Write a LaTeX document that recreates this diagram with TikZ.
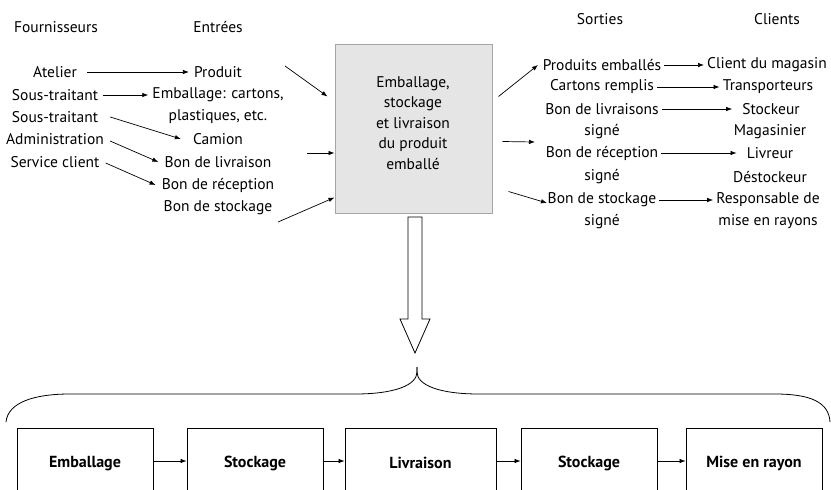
\documentclass[tikz,border=0pt]{standalone}
\usepackage{fontspec}
\setmainfont{PT Sans}
\usetikzlibrary{arrows.meta,calc}
\begin{document}
\begin{tikzpicture}[x=1pt,y=-1pt,
  lbl/.style={font=\fontsize{15.5}{20.5}\selectfont, inner sep=0pt, align=center},
  arr/.style={-{Latex[length=6pt,width=4.5pt]}, line width=0.7pt},
  mainbox/.style={draw=black!35, fill=black!10, line width=1pt, minimum width=157pt, minimum height=169pt, inner sep=0pt},
  stepbox/.style={draw, line width=0.8pt, minimum width=136pt, minimum height=70pt, inner sep=0pt, font=\bfseries\fontsize{16}{18}\selectfont, anchor=north},
]
\useasboundingbox (0,0) rectangle (831,490);
\clip (0,0) rectangle (831,490);

% headers
\node[lbl] (hF) at (56,27) {Fournisseurs};
\node[lbl] (hE) at (218,27) {Entrées};
\node[lbl] (hS) at (600,19) {Sorties};
\node[lbl] (hC) at (777,19) {Clients};

% suppliers
\node[lbl] (f1) at (55,72) {Atelier};
\node[lbl] (f2) at (55,95) {Sous-traitant};
\node[lbl] (f3) at (55,117) {Sous-traitant};
\node[lbl] (f4) at (55,139) {Administration};
\node[lbl] (f5) at (55,162) {Service client};

% inputs
\node[lbl] (e1) at (218,72) {Produit};
\node[lbl] (e2) at (218,95) {Emballage: cartons,};
\node[lbl] (e2b) at (218,117) {plastiques, etc.};
\node[lbl] (e3) at (218,139) {Camion};
\node[lbl] (e4) at (218,162) {Bon de livraison};
\node[lbl] (e5) at (218,185) {Bon de réception};
\node[lbl] (e6) at (218,208) {Bon de stockage};

\draw[arr] ($(f1.east)+(10,0)$) -- ($(e1.west)+(-5,0)$);
\draw[arr] ($(f2.east)+(5,0)$) -- ($(e2.west)+(-4,0)$);
\draw[arr] ($(f3.east)+(12,0)$) -- ($(e3.west)+(-12,0)$);
\draw[arr] ($(f4.east)+(6,2)$) -- ($(e4.west)+(-6,0)$);
\draw[arr] ($(f5.east)+(6,1)$) -- ($(e5.west)+(-6,0)$);

% main box
\node[mainbox] (box) at (413.5,128.5) {};
\node[lbl] (boxtxt) at (413,123) {Emballage,\\stockage\\et livraison\\du produit\\emballé};

% arrows into box
\coordinate (i1) at (285,66);
\coordinate (i2) at (307,153);
\coordinate (i3) at (278,222);
\draw[arr] (i1) -- ($(box.north west)+(-7,53)$);
\draw[arr] (i2) -- (i2 -| box.west);
\draw[arr] (i3) -- ($(box.north west)+(0,154)$);

% arrows out of box
\coordinate (o1) at (538,65);
\coordinate (o2) at (535,142);
\coordinate (o3) at (547,203);
\draw[arr] ($(box.north east)+(6,53)$) -- (o1);
\draw[arr] ($(box.north east)+(10,98)$) -- (o2);
\draw[arr] ($(box.north east)+(16,148)$) -- (o3);

% outputs
\node[lbl] (s1) at (602,65) {Produits emballés};
\node[lbl] (s2) at (602,87) {Cartons remplis};
\node[lbl] (s3) at (602,109) {Bon de livraisons};
\node[lbl] (s3b) at (602,132) {signé};
\node[lbl] (s4) at (602,153) {Bon de réception};
\node[lbl] (s4b) at (602,177) {signé};
\node[lbl] (s5) at (602,200) {Bon de stockage};
\node[lbl] (s5b) at (602,222) {signé};

% clients
\node[lbl] (c1) at (767,65) {Client du magasin};
\node[lbl] (c2) at (768,87) {Transporteurs};
\node[lbl] (c3) at (771,109) {Stockeur};
\node[lbl] (c3b) at (770,132) {Magasinier};
\node[lbl] (c4) at (770,153) {Livreur};
\node[lbl] (c4b) at (770,177) {Déstockeur};
\node[lbl] (c5) at (768,200) {Responsable de};
\node[lbl] (c5b) at (768,222) {mise en rayons};

\draw[arr] ($(s1.east)+(3,0)$) -- ($(c1.west)+(-3,0)$);
\draw[arr] ($(s2.east)+(3,0)$) -- ($(c2.west)+(-3,0)$);
\draw[arr] ($(s3.east)+(3,0)$) -- ($(c3.west)+(-10,0)$);
\draw[arr] ($(s4.east)+(3,0)$) -- ($(c4.west)+(-10,0)$);
\draw[arr] ($(s5.east)+(3,0)$) -- ($(c5.west)+(-3,0)$);

% block arrow
\draw[line width=0.8pt, fill=white] (408,217) -- (408,319) -- (400,319) -- (415,353) -- (430,319) -- (422,319) -- (422,217) -- cycle;

% brace
\draw[line width=0.8pt] (6,422) .. controls (8,402) and (35,394) .. (70,394) -- (355,394) .. controls (395,394) and (417,385) .. (417,372) -- (417,367);
\draw[line width=0.8pt] (417,367) -- (417,372) .. controls (417,385) and (439,394) .. (479,394) -- (775,394) .. controls (810,394) and (829,402) .. (830,422);

% process steps
\node[stepbox] (b1) at (85,428) {Emballage};
\node[stepbox] (b2) at (255,428) {Stockage};
\node[stepbox, minimum width=151pt] (b3) at (420.5,428) {Livraison};
\node[stepbox] (b4) at (589,428) {Stockage};
\node[stepbox] (b5) at (754,428) {Mise en rayon};

\draw[arr] (b1.east |- 0,461) -- (b2.west |- 0,461);
\draw[arr] (b2.east |- 0,461) -- (b3.west |- 0,461);
\draw[arr] (b3.east |- 0,461) -- (b4.west |- 0,461);
\draw[arr] (b4.east |- 0,461) -- (b5.west |- 0,461);
\end{tikzpicture}
\end{document}
